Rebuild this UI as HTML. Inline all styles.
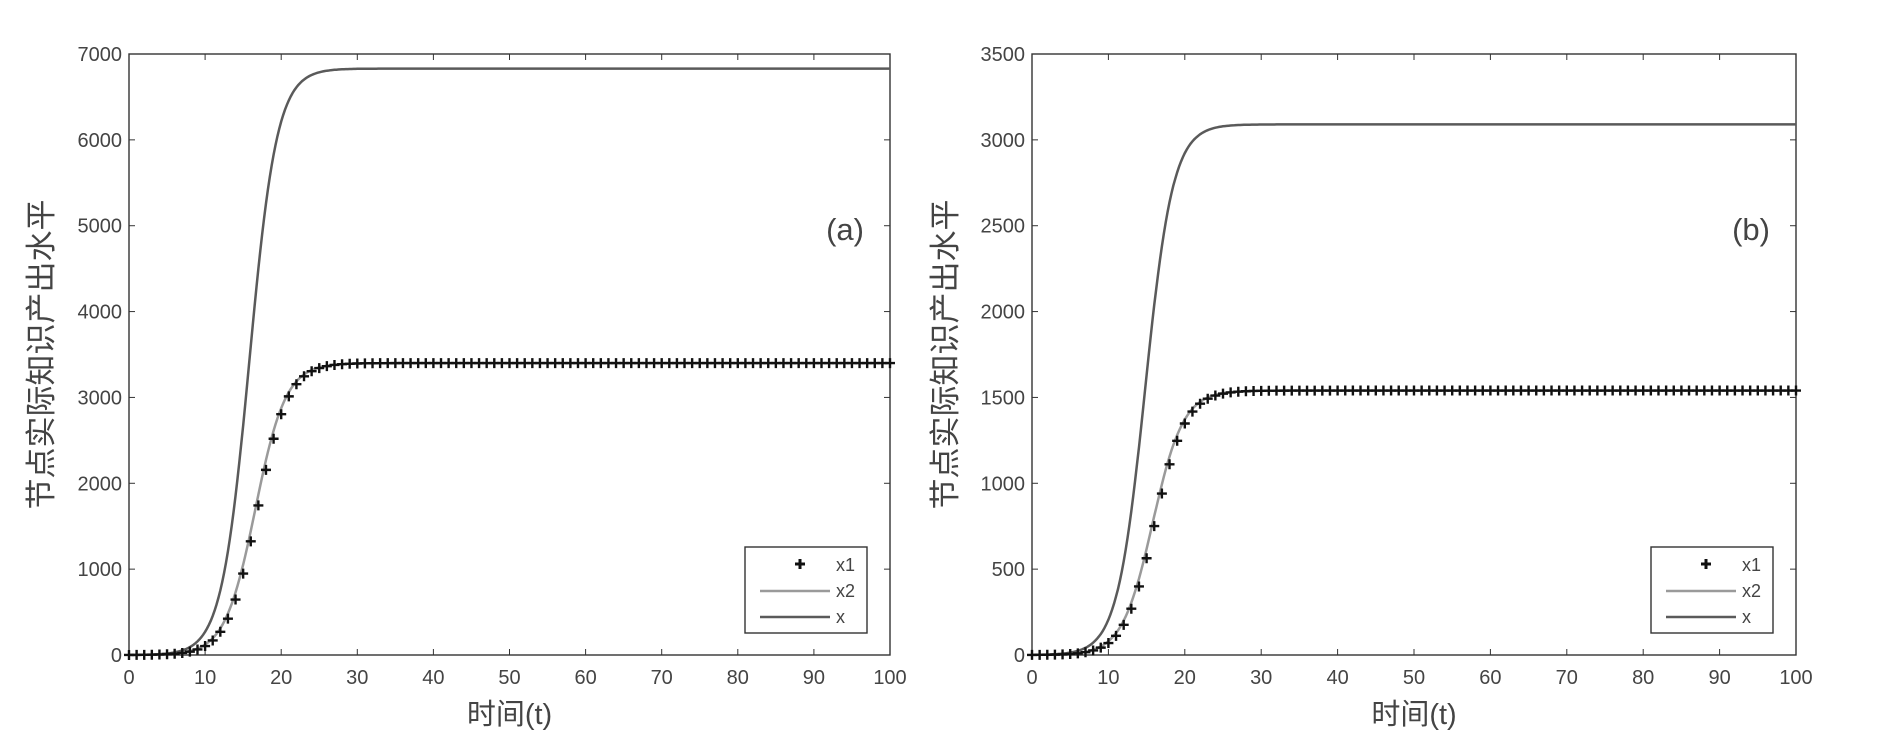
<!DOCTYPE html>
<html><head><meta charset="utf-8"><style>
body{margin:0;background:#fff;}
svg text{font-family:"Liberation Sans","Noto Sans CJK SC",sans-serif;fill:#444;}
</style></head><body>
<svg id="s" width="1889" height="738" xmlns="http://www.w3.org/2000/svg"></svg>
<script>
const s=document.getElementById('s');let h='';
function panel(L,R,T,B,ymax,ystep,ytix,xmax_x,xmid,xk,x1max,x1mid,x1k,lab,ylabX){
  const X=t=>L+(R-L)*t/100, Y=v=>B-(B-T)*v/ymax;
  h+=`<rect x="${L}" y="${T}" width="${R-L}" height="${B-T}" fill="#fff" stroke="#333" stroke-width="1.4"/>`;
  for(let i=0;i<=10;i++){const x=X(i*10);
    h+=`<line x1="${x}" y1="${B}" x2="${x}" y2="${B-6}" stroke="#333"/><line x1="${x}" y1="${T}" x2="${x}" y2="${T+6}" stroke="#333"/>`;
    h+=`<text x="${x}" y="${B+29}" font-size="20" text-anchor="middle">${i*10}</text>`;}
  for(let v=0;v<=ymax;v+=ystep){const y=Y(v);
    h+=`<line x1="${L}" y1="${y}" x2="${L+6}" y2="${y}" stroke="#333"/><line x1="${R}" y1="${y}" x2="${R-6}" y2="${y}" stroke="#333"/>`;
    h+=`<text x="${L-7}" y="${y+7}" font-size="20" text-anchor="end">${v}</text>`;}
  const f=(m,c,k,t)=>m/(1+Math.exp(-k*(t-c)));
  let p1='',p2='';
  for(let t=0;t<=100;t+=0.25){p1+=(t?'L':'M')+X(t).toFixed(1)+','+Y(f(xmax_x,xmid,xk,t)).toFixed(1);
    p2+=(t?'L':'M')+X(t).toFixed(1)+','+Y(f(x1max,x1mid,x1k,t)).toFixed(1);}
  h+=`<path d="${p2}" fill="none" stroke="#9a9a9a" stroke-width="2.5"/>`;
  h+=`<path d="${p1}" fill="none" stroke="#5a5a5a" stroke-width="2.5"/>`;
  for(let t=0;t<=100;t+=1){const x=X(t),y=Y(f(x1max,x1mid+0.3,x1k,t));
    h+=`<path d="M${x-5},${y}h10M${x},${y-5}v10" stroke="#111" stroke-width="2.4"/>`;}
  h+=`<text x="${R-26}" y="${T+186}" font-size="31" text-anchor="end" fill="#222">${lab}</text>`;
  const lx=R-145,ly=B-108;
  h+=`<rect x="${lx}" y="${ly}" width="122" height="86" fill="#fff" stroke="#333" stroke-width="1.4"/>`;
  h+=`<path d="M${lx+50},${ly+17}h10M${lx+55},${ly+12}v10" stroke="#111" stroke-width="3"/>`;
  h+=`<line x1="${lx+15}" y1="${ly+44}" x2="${lx+85}" y2="${ly+44}" stroke="#9a9a9a" stroke-width="2.5"/>`;
  h+=`<line x1="${lx+15}" y1="${ly+70}" x2="${lx+85}" y2="${ly+70}" stroke="#5a5a5a" stroke-width="2.5"/>`;
  [['x1',24],['x2',50],['x',76]].forEach(a=>h+=`<text x="${lx+91}" y="${ly+a[1]}" font-size="18">${a[0]}</text>`);
  h+=`<text x="${(L+R)/2}" y="${B+69}" font-size="29" text-anchor="middle">时间(t)</text>`;
  h+=`<text transform="translate(${ylabX},${(T+B)/2}) rotate(-90)" font-size="31" text-anchor="middle">节点实际知识产出水平</text>`;
}
panel(129,890,54,655,7000,1000,0,6830,15.8,0.55,3400,16.6,0.5,'(a)',52);
panel(1032,1796,54,655,3500,500,0,3090,14.8,0.55,1540,15.8,0.5,'(b)',956);
s.innerHTML=h;
</script>
</body></html>
